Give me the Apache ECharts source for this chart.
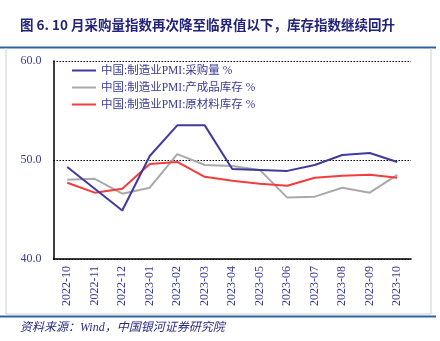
<!DOCTYPE html>
<html><head><meta charset="utf-8">
<script src="https://cdn.jsdelivr.net/npm/echarts@6/dist/echarts.min.js"></script>
<style>html,body{margin:0;padding:0;background:#fff}#c{width:440px;height:341px}</style>
</head><body><div id="c"></div>
<script>
const categories = ['2022-10','2022-11','2022-12','2023-01','2023-02','2023-03','2023-04','2023-05','2023-06','2023-07','2023-08','2023-09','2023-10'];
const purchase = [49.3, 47.1, 44.9, 50.4, 53.5, 53.5, 49.1, 49.0, 48.9, 49.5, 50.5, 50.7, 49.8];
const finishedInv = [48.0, 48.1, 46.6, 47.2, 50.6, 49.5, 49.4, 49.0, 46.2, 46.3, 47.2, 46.7, 48.5];
const rawInv = [47.7, 46.7, 47.1, 49.6, 49.8, 48.3, 47.9, 47.6, 47.4, 48.2, 48.4, 48.5, 48.2];
const names = ['中国:制造业PMI:采购量 %','中国:制造业PMI:产成品库存 %','中国:制造业PMI:原材料库存 %'];
const yTicks = {min: 40, max: 60, interval: 10};

const navy = '#3a3a96';
const font = '"Liberation Serif", "Noto Sans CJK SC", serif';
const chart = echarts.init(document.getElementById('c'), null, {renderer: 'canvas'});
chart.setOption({
  animation: false,
  backgroundColor: '#fff',
  grid: {left: 53.5, right: 29, top: 61, bottom: 82},
  legend: {
    orient: 'vertical', left: 67, top: 59, itemWidth: 24, itemHeight: 2, itemGap: 4,
    textStyle: {color: navy, fontSize: 11.5, fontFamily: font, lineHeight: 13},
    data: names.map(n => ({name: n, icon: 'rect'}))
  },
  xAxis: {
    type: 'category', data: categories, boundaryGap: true,
    axisLine: {lineStyle: {color: '#000', width: 1.5}},
    axisTick: {inside: true, length: 3, lineStyle: {color: '#000', width: 1.5}},
    axisLabel: {rotate: 90, color: navy, fontSize: 12, fontFamily: font, margin: 7}
  },
  yAxis: {
    type: 'value', min: yTicks.min, max: yTicks.max, interval: yTicks.interval,
    axisLine: {show: true, lineStyle: {color: '#000', width: 1.5}},
    axisTick: {show: false},
    axisLabel: {color: navy, fontSize: 12, fontFamily: font, margin: 12, formatter: v => v.toFixed(1)},
    splitLine: {lineStyle: {color: '#000', type: [1.5, 1.5], width: 1}}
  },
  series: [
    {name: names[0], type: 'line', data: purchase, symbol: 'none', lineStyle: {color: '#3f3b9e', width: 2}, itemStyle: {color: '#3f3b9e'}, z: 4},
    {name: names[1], type: 'line', data: finishedInv, symbol: 'none', lineStyle: {color: '#a9a9a9', width: 2}, itemStyle: {color: '#a9a9a9'}, z: 2},
    {name: names[2], type: 'line', data: rawInv, symbol: 'none', lineStyle: {color: '#f53c3c', width: 2}, itemStyle: {color: '#f53c3c'}, z: 3}
  ],
  graphic: [
    {type: 'text', left: 20, top: 18, style: {text: '图 6. 10 月采购量指数再次降至临界值以下，库存指数继续回升', fill: '#232379', font: 'bold 13.5px "Noto Sans CJK SC", sans-serif'}},
    {type: 'rect', shape: {x: 0, y: 46.5, width: 436, height: 2}, style: {fill: '#2e63a3'}},
    {type: 'polyline', shape: {points: [[6, 48], [6, 314], [431, 314], [431, 48]]}, style: {stroke: '#cfcfcf', lineWidth: 1, fill: null}},
    {type: 'rect', shape: {x: 0, y: 315.5, width: 436, height: 2}, style: {fill: '#2e63a3'}},
    {type: 'text', left: 20, top: 322, style: {text: '资料来源：Wind，中国银河证券研究院', fill: '#2a2a80', font: 'italic 12px "Liberation Serif", "Noto Sans CJK SC", serif'}}
  ]
});
</script></body></html>
